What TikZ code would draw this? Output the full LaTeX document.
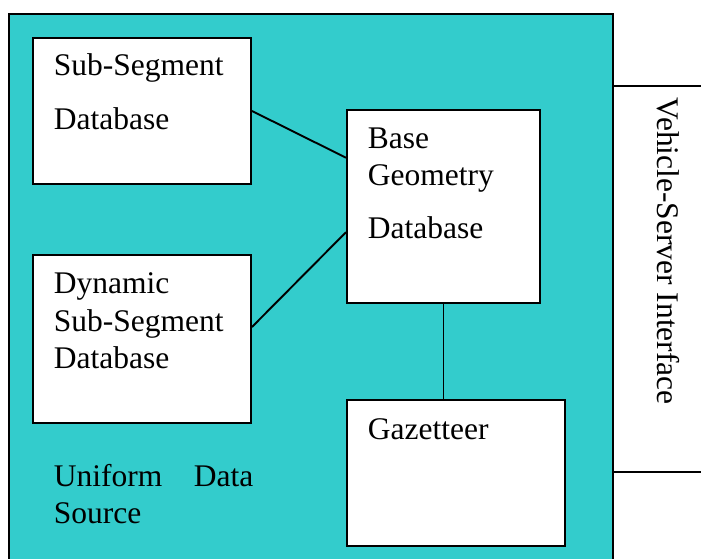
\documentclass[tikz,border=0pt]{standalone}
\usepackage{fontspec}
\setmainfont{Liberation Serif}
\usetikzlibrary{calc}
\definecolor{tealfill}{RGB}{51,204,204}
\begin{document}
\begin{tikzpicture}[x=1pt,y=-1pt,line width=1.9pt,
  box/.style={draw=black,fill=white,inner sep=0pt,anchor=north west},
  lbl/.style={anchor=base west,inner sep=0pt,font=\fontsize{31.5}{37}\selectfont}]
\clip (0,0) rectangle (701,559);
\fill[white] (0,0) rectangle (701,559);
% outer uniform data source
\node[draw=black,fill=tealfill,inner sep=0pt,anchor=north west,minimum width=604pt,minimum height=570pt] (uds) at (8,13) {};
% vehicle-server interface
\node[box,minimum width=120pt,minimum height=386pt] (vsi) at (612,85) {};
\node[lbl,rotate=-90] (vsit) at (657,97) {Vehicle-Server Interface};
% boxes
\node[box,minimum width=218pt,minimum height=146pt] (ss) at (32,37) {};
\node[box,minimum width=218pt,minimum height=168pt] (dyn) at (32,254) {};
\node[box,minimum width=193pt,minimum height=193pt] (bg) at (346,109) {};
\node[box,minimum width=218pt,minimum height=146pt] (gz) at (346,399) {};
% labels
\node[lbl] (sst1) at (53,76) {Sub-Segment};
\node[lbl] (sst2) at (53,129) {Database};
\node[lbl] (dyt1) at (53,293) {Dynamic};
\node[lbl] (dyt2) at (53,331) {Sub-Segment};
\node[lbl] (dyt3) at (53,368) {Database};
\node[lbl] (bgt1) at (367,148) {Base};
\node[lbl] (bgt2) at (367,185) {Geometry};
\node[lbl] (bgt3) at (367,238) {Database};
\node[lbl] (gzt) at (367,439) {Gazetteer};
\node[lbl] (udst1) at (53,486) {Uniform};
\node[lbl] (udst2) at (193,486) {Data};
\node[lbl] (udst3) at (53,523) {Source};
% connectors
\draw (ss.east) -- ($(bg.north west)!0.25!(bg.south west)$);
\draw ($(dyn.north east)!0.43!(dyn.south east)$) -- ($(bg.north west)!0.632!(bg.south west)$);
\draw (bg.south) -- (bg.south |- gz.north);
\end{tikzpicture}
\end{document}
